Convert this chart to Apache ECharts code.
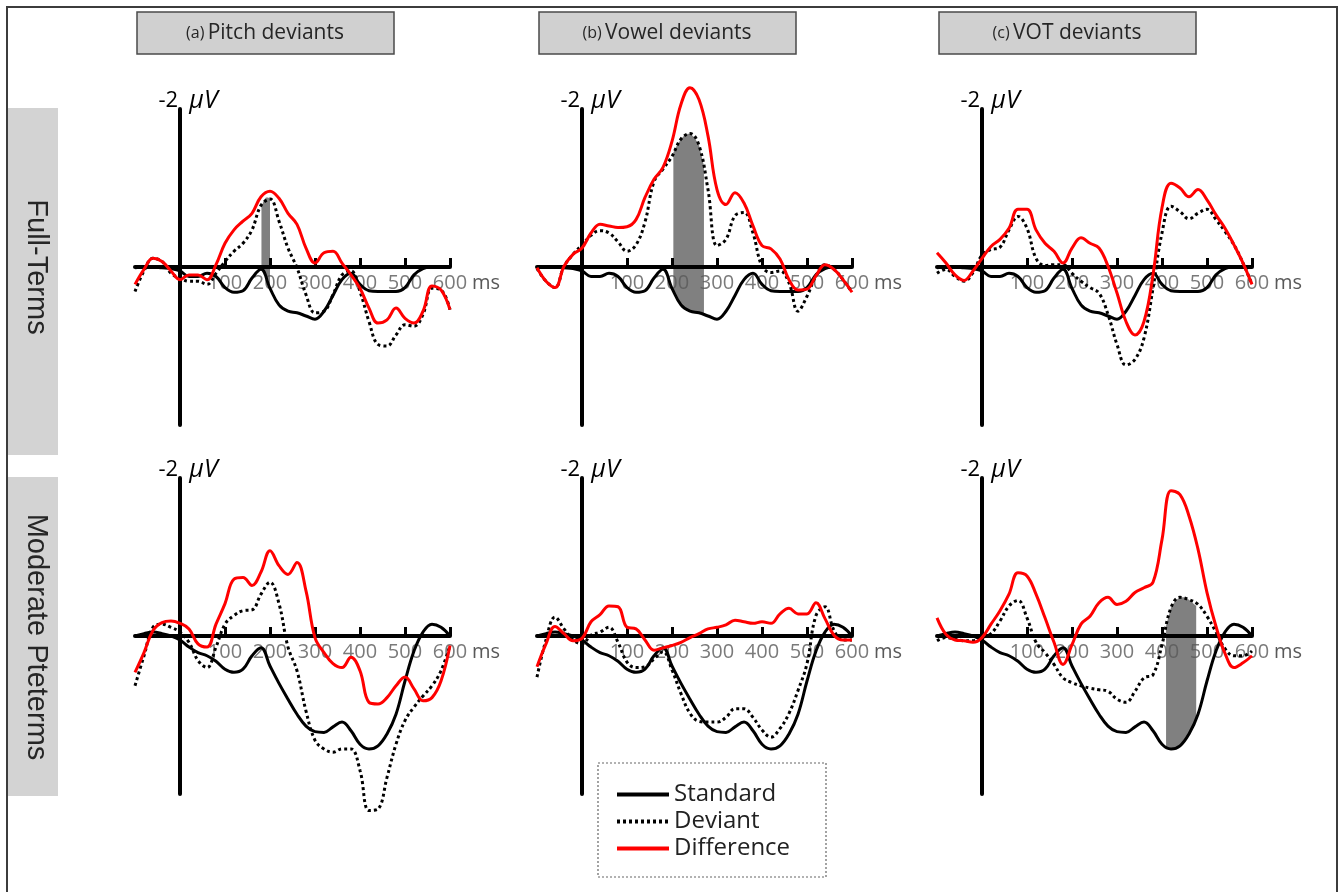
<!DOCTYPE html>
<html>
<head>
<meta charset="utf-8">
<style>
  html, body { margin: 0; padding: 0; background: #fff; }
  #chart { width: 1338px; height: 892px; }
</style>
<script src="https://cdn.jsdelivr.net/npm/echarts@6/dist/echarts.min.js"></script>
</head>
<body>
<div id="chart"></div>
<script>
// sample times (ms) shared by every waveform
const times = [-100, -80, -60, -40, -20, 0, 20, 40, 60, 80, 100, 120, 140, 160, 180, 200, 220, 240,
  260, 280, 300, 320, 340, 360, 380, 400, 420, 440, 460, 480, 500, 520, 540, 560, 580, 600];
const tickValues = [100, 200, 300, 400, 500, 600];

const columnTags = ['(a)', '(b)', '(c)'];
const columnTitles = ['Pitch deviants', 'Vowel deviants', 'VOT deviants'];
const rowTitles = ['Full-Terms', 'Moderate Pteterms'];
const seriesNames = ['Standard', 'Deviant', 'Difference'];

// amplitudes in µV (negative plotted upwards)
// full-terms
const standardFull = [0.01, 0.00, 0.00, 0.01, 0.02, 0.05, 0.12, 0.12, 0.08, 0.12, 0.26, 0.32, 0.30, 0.14, 0.03, 0.27, 0.48, 0.56,
  0.58, 0.62, 0.66, 0.56, 0.36, 0.16, 0.08, 0.22, 0.30, 0.31, 0.31, 0.31, 0.26, 0.10, 0.02, 0.00, 0.00, 0.00];
const pitchFullDev = [0.31, 0.05, -0.11, -0.07, 0.08, 0.14, 0.18, 0.18, 0.22, 0.08, -0.07, -0.20, -0.30, -0.47, -0.78, -0.86, -0.58, -0.24,
  0.01, 0.35, 0.58, 0.56, 0.35, 0.10, 0.05, 0.31, 0.69, 0.98, 1.00, 0.86, 0.73, 0.75, 0.60, 0.27, 0.29, 0.54];
const pitchFullDiff = [0.22, 0.03, -0.11, -0.07, 0.05, 0.16, 0.10, 0.10, 0.16, -0.03, -0.30, -0.47, -0.58, -0.68, -0.89, -0.96, -0.87, -0.68,
  -0.54, -0.24, -0.05, -0.18, -0.20, -0.05, 0.10, 0.27, 0.52, 0.71, 0.67, 0.52, 0.65, 0.71, 0.56, 0.24, 0.29, 0.54];
const vowelFullDev = [0.02, 0.18, 0.26, -0.01, -0.16, -0.28, -0.40, -0.46, -0.43, -0.32, -0.20, -0.28, -0.57, -1.08, -1.24, -1.40, -1.62, -1.69,
  -1.54, -0.98, -0.27, -0.35, -0.65, -0.69, -0.43, -0.01, 0.07, 0.05, 0.20, 0.56, 0.37, 0.11, -0.03, 0.03, 0.16, 0.32];
const vowelFullDiff = [0.01, 0.18, 0.26, -0.01, -0.16, -0.24, -0.43, -0.54, -0.52, -0.50, -0.51, -0.60, -0.88, -1.11, -1.26, -1.59, -2.06, -2.27,
  -2.12, -1.66, -0.98, -0.79, -0.94, -0.81, -0.52, -0.27, -0.23, -0.10, 0.16, 0.29, 0.28, 0.11, -0.03, 0.03, 0.16, 0.32];
const votFullDev = [0.08, 0.03, 0.12, 0.18, 0.07, -0.15, -0.22, -0.25, -0.47, -0.64, -0.49, -0.11, -0.02, -0.03, -0.03, 0.08, 0.18, 0.26,
  0.33, 0.60, 0.98, 1.24, 1.17, 0.90, 0.27, -0.43, -0.77, -0.70, -0.61, -0.68, -0.73, -0.60, -0.45, -0.28, -0.05, 0.22];
const votFullDiff = [-0.18, -0.05, 0.10, 0.17, 0.05, -0.11, -0.26, -0.35, -0.49, -0.73, -0.73, -0.47, -0.30, -0.20, -0.05, -0.24, -0.37, -0.30,
  -0.24, -0.01, 0.33, 0.69, 0.86, 0.69, 0.10, -0.75, -1.06, -1.00, -0.89, -0.98, -0.85, -0.66, -0.49, -0.28, -0.05, 0.22];

// moderate preterms
const standardPre = [0.00, -0.03, -0.05, -0.03, 0.00, 0.05, 0.14, 0.21, 0.25, 0.32, 0.42, 0.46, 0.42, 0.25, 0.15, 0.38, 0.60, 0.80,
  0.99, 1.14, 1.21, 1.22, 1.15, 1.09, 1.20, 1.37, 1.43, 1.39, 1.24, 0.99, 0.57, 0.19, -0.05, -0.15, -0.11, 0.00];
const pitchPreDev = [0.63, 0.25, -0.11, -0.15, -0.11, -0.05, 0.08, 0.31, 0.40, 0.14, -0.15, -0.26, -0.32, -0.33, -0.53, -0.68, -0.41, 0.14,
  0.44, 0.95, 1.32, 1.43, 1.47, 1.43, 1.43, 1.70, 2.21, 2.19, 1.79, 1.37, 1.07, 0.90, 0.76, 0.63, 0.44, 0.12];
const pitchPreDiff = [0.46, 0.21, -0.07, -0.17, -0.19, -0.16, -0.09, 0.10, 0.14, -0.15, -0.41, -0.72, -0.74, -0.64, -0.81, -1.08, -0.89, -0.78,
  -0.93, -0.57, 0.02, 0.21, 0.35, 0.40, 0.27, 0.44, 0.84, 0.86, 0.78, 0.63, 0.52, 0.67, 0.82, 0.78, 0.57, 0.12];
const vowelPreDev = [0.52, 0.05, -0.24, -0.09, 0.05, 0.10, -0.01, -0.05, -0.11, 0.08, 0.33, 0.40, 0.39, 0.29, 0.20, 0.43, 0.73, 0.98,
  1.08, 1.09, 1.09, 1.03, 0.92, 0.92, 1.03, 1.19, 1.28, 1.17, 0.98, 0.69, 0.35, -0.26, -0.37, -0.07, 0.05, 0.05];
const vowelPreDiff = [0.39, 0.10, -0.12, -0.03, 0.06, 0.03, -0.18, -0.27, -0.38, -0.37, -0.11, -0.09, 0.05, 0.18, 0.15, 0.12, 0.08, 0.02,
  -0.03, -0.09, -0.11, -0.14, -0.20, -0.18, -0.16, -0.18, -0.16, -0.28, -0.35, -0.28, -0.28, -0.42, -0.22, -0.01, 0.05, 0.05];
const votPreDev = [0.06, 0.02, 0.04, 0.06, 0.06, 0.02, -0.03, -0.19, -0.38, -0.45, -0.23, 0.08, 0.21, 0.36, 0.53, 0.59, 0.63, 0.66,
  0.68, 0.70, 0.80, 0.84, 0.70, 0.53, 0.49, 0.11, -0.36, -0.49, -0.46, -0.40, -0.25, -0.05, 0.16, 0.25, 0.25, 0.19];
const votPreDiff = [-0.23, -0.02, 0.05, 0.06, 0.08, 0.02, -0.15, -0.32, -0.53, -0.80, -0.76, -0.53, -0.23, 0.08, 0.36, 0.11, -0.15, -0.25,
  -0.42, -0.49, -0.40, -0.44, -0.55, -0.61, -0.68, -1.22, -1.84, -1.79, -1.52, -1.10, -0.55, -0.12, 0.22, 0.40, 0.34, 0.25];

// grey significance windows: time, upper edge (deviant), lower edge (standard)
const shadePitchFullT = [181, 186, 191, 196, 200];
const shadePitchFullTop = [-0.76, -0.84, -0.88, -0.88, -0.86];
const shadePitchFullBottom = [0.03, 0.05, 0.10, 0.16, 0.25];
const shadeVowelFullT = [203, 210, 220, 230, 240, 250, 260, 271];
const shadeVowelFullTop = [-1.45, -1.53, -1.62, -1.68, -1.69, -1.64, -1.54, -1.28];
const shadeVowelFullBottom = [0.31, 0.40, 0.48, 0.53, 0.56, 0.57, 0.58, 0.61];
const shadeVotPreT = [409, 420, 430, 440, 450, 460, 476];
const shadeVotPreTop = [-0.13, -0.36, -0.45, -0.49, -0.49, -0.46, -0.38];
const shadeVotPreBottom = [1.40, 1.43, 1.42, 1.39, 1.33, 1.24, 1.05];

const panels = [
  {row: 0, col: 0, std: standardFull, dev: pitchFullDev, diff: pitchFullDiff,
    shade: [shadePitchFullT, shadePitchFullTop, shadePitchFullBottom]},
  {row: 0, col: 1, std: standardFull, dev: vowelFullDev, diff: vowelFullDiff,
    shade: [shadeVowelFullT, shadeVowelFullTop, shadeVowelFullBottom]},
  {row: 0, col: 2, std: standardFull, dev: votFullDev, diff: votFullDiff},
  {row: 1, col: 0, std: standardPre, dev: pitchPreDev, diff: pitchPreDiff},
  {row: 1, col: 1, std: standardPre, dev: vowelPreDev, diff: vowelPreDiff},
  {row: 1, col: 2, std: standardPre, dev: votPreDev, diff: votPreDiff,
    shade: [shadeVotPreT, shadeVotPreTop, shadeVotPreBottom]}
];

const GRID_LEFT = [135, 537, 937];
const GRID_TOP = [109, 478];
const FONT = '"Open Sans", sans-serif';
const LABEL_GREY = '#595959';

const pair = (ts, vs) => ts.map((t, i) => [t, vs[i]]);

const grids = [];
const xAxes = [];
const yAxes = [];
const series = [];

panels.forEach((p, i) => {
  grids.push({left: GRID_LEFT[p.col], top: GRID_TOP[p.row], width: 315, height: 316});

  xAxes.push({
    type: 'value', gridIndex: i, min: -100, max: 600,
    axisLine: {onZero: true, lineStyle: {color: '#000', width: 4}},
    axisTick: {customValues: tickValues, inside: true, length: 9, lineStyle: {color: '#000', width: 3}},
    axisLabel: {show: false},
    splitLine: {show: false},
    name: 'ms', nameLocation: 'end', nameGap: 22,
    nameTextStyle: {color: LABEL_GREY, fontSize: 20, fontFamily: FONT,
      align: 'left', verticalAlign: 'top', padding: [6, 0, 0, 0]}
  });

  yAxes.push({
    type: 'value', gridIndex: i, min: -2, max: 2, inverse: true,
    axisLine: {onZero: true, lineStyle: {color: '#000', width: 4}},
    axisTick: {show: false},
    axisLabel: {show: false},
    splitLine: {show: false},
    name: '{a|-2}{b|μV}', nameLocation: 'start', nameGap: -4,
    nameTextStyle: {
      align: 'center', verticalAlign: 'bottom', padding: [0, 0, 0, 14],
      rich: {
        a: {fontSize: 22, fontFamily: FONT, color: '#000', width: 24, align: 'right'},
        b: {fontSize: 25, fontFamily: FONT, color: '#000', fontStyle: 'italic', padding: [0, 0, 0, 9]}
      }
    }
  });

  const common = {xAxisIndex: i, yAxisIndex: i, silent: true, clip: false};

  // grey window between deviant and standard curves
  if (p.shade) {
    const [st, top, bottom] = p.shade;
    series.push(Object.assign({}, common, {
      type: 'custom', z: -1,
      data: st.map((t, k) => [t, top[k], bottom[k]]),
      encode: {x: 0, y: [1, 2]},
      renderItem: (params, api) => {
        if (params.dataIndex !== 0) return null;
        const upper = st.map((t, k) => api.coord([t, top[k]]));
        const lower = st.map((t, k) => api.coord([t, bottom[k]])).reverse();
        return {type: 'polygon', shape: {points: upper.concat(lower)}, style: {fill: '#808080'}};
      }
    }));
  }

  // tick labels sitting on the zero line
  series.push(Object.assign({}, common, {
    type: 'scatter', symbolSize: 1, z: 1,
    itemStyle: {color: 'transparent'},
    data: tickValues.map(t => [t, 0]),
    label: {show: true, position: 'bottom', distance: 6, formatter: (d) => String(d.value[0]),
      color: LABEL_GREY, fontSize: 20, fontFamily: FONT}
  }));

  const line = Object.assign({}, common, {type: 'line', symbol: 'none', smooth: 0.4});
  series.push(Object.assign({}, line, {
    name: 'Standard', data: pair(times, p.std), z: 3,
    lineStyle: {color: '#000', width: 3}, itemStyle: {color: '#000'}
  }));
  series.push(Object.assign({}, line, {
    name: 'Deviant', data: pair(times, p.dev), z: 4,
    lineStyle: {color: '#000', width: 3, type: [3, 3]}, itemStyle: {color: '#000'}
  }));
  series.push(Object.assign({}, line, {
    name: 'Difference', data: pair(times, p.diff), z: 5,
    lineStyle: {color: '#ff0000', width: 3}, itemStyle: {color: '#ff0000'}
  }));
});

// frame, column headers, row labels, legend box
const graphic = [
  {type: 'rect', silent: true, shape: {x: 7, y: 7, width: 1330, height: 900},
    style: {fill: 'none', stroke: '#3c3c3c', lineWidth: 2}}
];
GRID_LEFT.forEach((left, c) => {
  graphic.push({type: 'rect', silent: true, shape: {x: left + 2, y: 12, width: 257, height: 42},
    style: {fill: '#d0d0d0', stroke: '#4a4a4a', lineWidth: 1.5}});
  graphic.push({type: 'text', silent: true, x: left + 130, y: 33,
    style: {
      text: '{s|' + columnTags[c] + '} {t|' + columnTitles[c] + '}',
      align: 'center', verticalAlign: 'middle',
      rich: {
        s: {fontSize: 16, fontFamily: FONT, fill: '#262626'},
        t: {fontSize: 21, fontFamily: FONT, fill: '#262626'}
      }
    }});
});
// box top, box height, text centre
[[108, 347, 267], [477, 319, 637]].forEach(([top, h, mid], r) => {
  graphic.push({type: 'rect', silent: true, shape: {x: 8, y: top, width: 50, height: h},
    style: {fill: '#d3d3d3'}});
  graphic.push({type: 'text', silent: true, x: 36, y: mid, rotation: -Math.PI / 2,
    style: {text: rowTitles[r], fontSize: 29, fontFamily: '"Liberation Sans", Arial, sans-serif',
      fill: '#262626', align: 'center', verticalAlign: 'middle'}});
});
graphic.push({type: 'rect', silent: true, shape: {x: 598, y: 763, width: 228, height: 114},
  style: {fill: 'none', stroke: '#666', lineWidth: 1.2, lineDash: [2, 2]}});

const chart = echarts.init(document.getElementById('chart'));
chart.setOption({
  animation: false,
  backgroundColor: '#fff',
  grid: grids,
  xAxis: xAxes,
  yAxis: yAxes,
  series: series,
  legend: {
    data: seriesNames, orient: 'vertical', left: 615, top: 781,
    padding: 0, itemGap: 0, itemWidth: 52, itemHeight: 14,
    lineStyle: {width: 4},
    itemStyle: {opacity: 0},
    textStyle: {fontSize: 24, fontFamily: FONT, color: '#222', lineHeight: 27},
    selectedMode: false
  },
  graphic: graphic
});
</script>
</body>
</html>
